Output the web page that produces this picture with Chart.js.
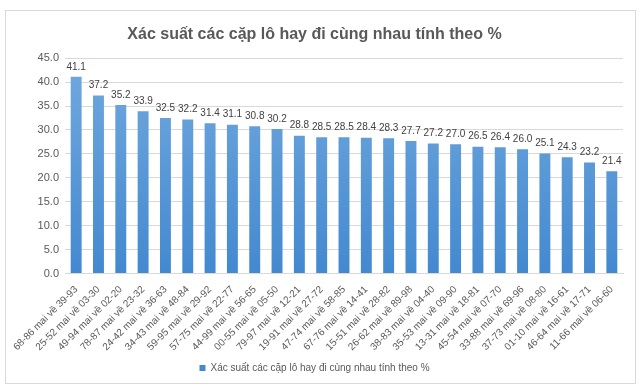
<!DOCTYPE html>
<html>
<head>
<meta charset="utf-8">
<script src="https://cdn.jsdelivr.net/npm/chart.js@4/dist/chart.umd.min.js"></script>
<style>
html,body{margin:0;padding:0;background:#fff;width:640px;height:392px;overflow:hidden;}
#box{position:absolute;left:5px;top:10px;width:629px;height:372px;border:1px solid #d9d9d9;background:#fff;}
canvas{display:block;}
</style>
</head>
<body>
<div id="box"><canvas id="c" width="629" height="372"></canvas></div>
<script>
const titleText = "Xác suất các cặp lô hay đi cùng nhau tính theo %";
const seriesName = "Xác suất các cặp lô hay đi cùng nhau tính theo %";
const categories = [
  "68-86 mai về 39-93","25-52 mai về 03-30","49-94 mai về 02-20","78-87 mai về 23-32",
  "24-42 mai về 36-63","34-43 mai về 48-84","59-95 mai về 29-92","57-75 mai về 22-77",
  "44-99 mai về 56-65","00-55 mai về 05-50","79-97 mai về 12-21","19-91 mai về 27-72",
  "47-74 mai về 58-85","67-76 mai về 14-41","15-51 mai về 28-82","26-62 mai về 89-98",
  "38-83 mai về 04-40","35-53 mai về 09-90","13-31 mai về 18-81","45-54 mai về 07-70",
  "33-88 mai về 69-96","37-73 mai về 08-80","01-10 mai về 16-61","46-64 mai về 17-71",
  "11-66 mai về 06-60"
];
const values = [41.1,37.2,35.2,33.9,32.5,32.2,31.4,31.1,30.8,30.2,28.8,28.5,28.5,28.4,28.3,27.7,27.2,27.0,26.5,26.4,26.0,25.1,24.3,23.2,21.4];
const yTicks = [0,5,10,15,20,25,30,35,40,45];

const FONT = "'Liberation Sans',Arial,sans-serif";

const valueLabels = {
  id: 'valueLabels',
  afterDatasetsDraw(chart) {
    const ctx = chart.ctx;
    const meta = chart.getDatasetMeta(0);
    ctx.save();
    ctx.font = "10px " + FONT;
    ctx.fillStyle = "#404040";
    ctx.textAlign = "center";
    ctx.textBaseline = "bottom";
    meta.data.forEach((bar, i) => {
      ctx.fillText(values[i].toFixed(1), bar.x, bar.y - 5);
    });
    ctx.restore();
  }
};

function barFill(context) {
  const chart = context.chart;
  const area = chart.chartArea;
  if (!area) return '#5b9bd5';
  const g = chart.ctx.createLinearGradient(0, area.top, 0, area.bottom);
  g.addColorStop(0, '#72a9de');
  g.addColorStop(1, '#4389d0');
  return g;
}

new Chart(document.getElementById('c'), {
  type: 'bar',
  data: {
    labels: categories,
    datasets: [{
      label: seriesName,
      data: values,
      backgroundColor: barFill,
      borderWidth: 0,
      categoryPercentage: 1.0,
      barPercentage: 0.49
    }]
  },
  options: {
    responsive: false,
    animation: false,
    devicePixelRatio: 1,
    layout: { padding: { left: 0, right: 12, top: 0, bottom: 0 } },
    plugins: {
      title: {
        display: true,
        text: titleText,
        color: '#595959',
        font: { family: FONT, size: 16, weight: 'bold' },
        padding: { top: 14, bottom: 14 }
      },
      legend: {
        display: true,
        position: 'bottom',
        labels: {
          color: '#595959',
          font: { family: FONT, size: 10 },
          boxWidth: 6,
          boxHeight: 6,
          padding: 8
        }
      },
      tooltip: { enabled: false }
    },
    scales: {
      x: {
        grid: { display: false },
        border: { display: true, color: '#d9d9d9' },
        ticks: {
          color: '#595959',
          font: { family: FONT, size: 10 },
          minRotation: 45,
          maxRotation: 45,
          autoSkip: false,
          padding: 2
        }
      },
      y: {
        min: 0,
        max: 45,
        afterBuildTicks(scale) { scale.ticks = yTicks.map(v => ({ value: v })); },
        afterFit(scale) { scale.width = 59; },
        grid: { color: '#d9d9d9', drawTicks: false },
        border: { display: false },
        ticks: {
          color: '#595959',
          font: { family: FONT, size: 11 },
          padding: 6,
          callback: v => Number(v).toFixed(1)
        }
      }
    }
  },
  plugins: [valueLabels]
});
</script>
</body>
</html>
